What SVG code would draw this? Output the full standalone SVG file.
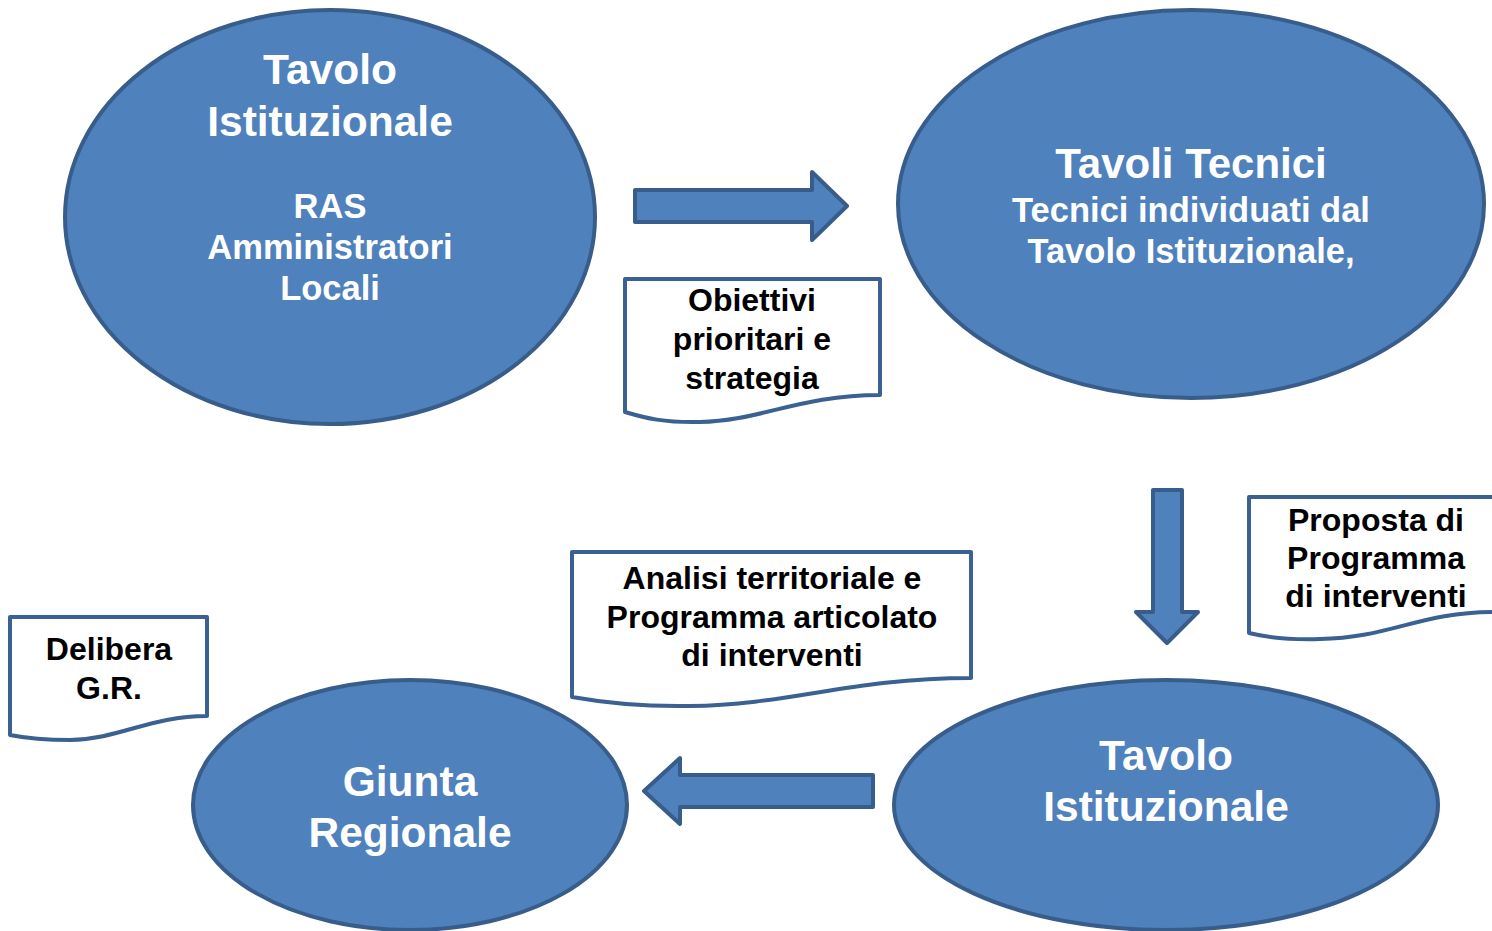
<svg xmlns="http://www.w3.org/2000/svg" width="1492" height="931" viewBox="0 0 1492 931">
<style>
.sh{fill:#4F81BD;stroke:#385D8A;stroke-width:4;stroke-linejoin:round}
.doc{fill:#FFFFFF;stroke:#3B6193;stroke-width:4;stroke-linejoin:round}
.wt{fill:#FFFFFF;font-family:"Liberation Sans",Arial,sans-serif;font-weight:bold;text-anchor:middle}
.bt{fill:#000000;font-family:"Liberation Sans",Arial,sans-serif;font-weight:bold;text-anchor:middle;font-size:32px}
</style>
<rect width="1492" height="931" fill="#FFFFFF"/>
<g id="node-tavolo-istituzionale-1">
<ellipse class="sh" cx="330" cy="217" rx="265" ry="207"/>
<text class="wt" font-size="42.5" x="330" y="84">Tavolo</text>
<text class="wt" font-size="42.5" x="330" y="136">Istituzionale</text>
<text class="wt" font-size="34.5" x="330" y="218">RAS</text>
<text class="wt" font-size="34.5" x="330" y="259">Amministratori</text>
<text class="wt" font-size="34.5" x="330" y="300">Locali</text>
</g>
<g id="node-tavoli-tecnici">
<ellipse class="sh" cx="1191" cy="204" rx="293" ry="194"/>
<text class="wt" font-size="42" x="1191" y="178">Tavoli Tecnici</text>
<text class="wt" font-size="34.5" x="1191" y="222">Tecnici individuati dal</text>
<text class="wt" font-size="34.5" x="1191" y="263">Tavolo Istituzionale,</text>
</g>
<g id="node-tavolo-istituzionale-2">
<ellipse class="sh" cx="1166" cy="805" rx="272" ry="125"/>
<text class="wt" font-size="42.5" x="1166" y="770">Tavolo</text>
<text class="wt" font-size="42.5" x="1166" y="821">Istituzionale</text>
</g>
<g id="node-giunta-regionale">
<ellipse class="sh" cx="410" cy="805" rx="217" ry="125"/>
<text class="wt" font-size="42.5" x="410" y="796">Giunta</text>
<text class="wt" font-size="42.5" x="410" y="847">Regionale</text>
</g>
<g id="connectors">
<path class="sh" d="M635,190 H812 V172 L847,206 L812,240 V222 H635 Z"/>
<path class="sh" d="M1153,490 H1182 V612 H1198 L1167,643 L1136,612 H1153 Z"/>
<path class="sh" d="M873,775 H680 V758 L644,791 L680,824 V807 H873 Z"/>
</g>
<g id="doc-obiettivi">
<path class="doc" d="M625,279 H880 V395 C800,395 760,421 700,422 C665,423 645,418 625,412 Z"/>
<text class="bt" x="752" y="311">Obiettivi</text>
<text class="bt" x="752" y="350">prioritari e</text>
<text class="bt" x="752" y="389">strategia</text>
</g>
<g id="doc-proposta">
<path class="doc" d="M1249,497 H1494 V612 C1420,612 1390,638 1320,639 C1285,640 1265,637 1249,633 Z"/>
<text class="bt" x="1376" y="531">Proposta di</text>
<text class="bt" x="1376" y="569">Programma</text>
<text class="bt" x="1376" y="607">di interventi</text>
</g>
<g id="doc-analisi">
<path class="doc" d="M572,552 H971 V678 C850,678 790,705 690,706 C635,707 600,702 572,697 Z"/>
<text class="bt" x="772" y="589">Analisi territoriale e</text>
<text class="bt" x="772" y="628">Programma articolato</text>
<text class="bt" x="772" y="666">di interventi</text>
</g>
<g id="doc-delibera">
<path class="doc" d="M10,617 H207 V716 C150,716 120,739 70,740 C40,740 25,738 10,735 Z"/>
<text class="bt" x="109" y="660">Delibera</text>
<text class="bt" x="109" y="699">G.R.</text>
</g>
</svg>
